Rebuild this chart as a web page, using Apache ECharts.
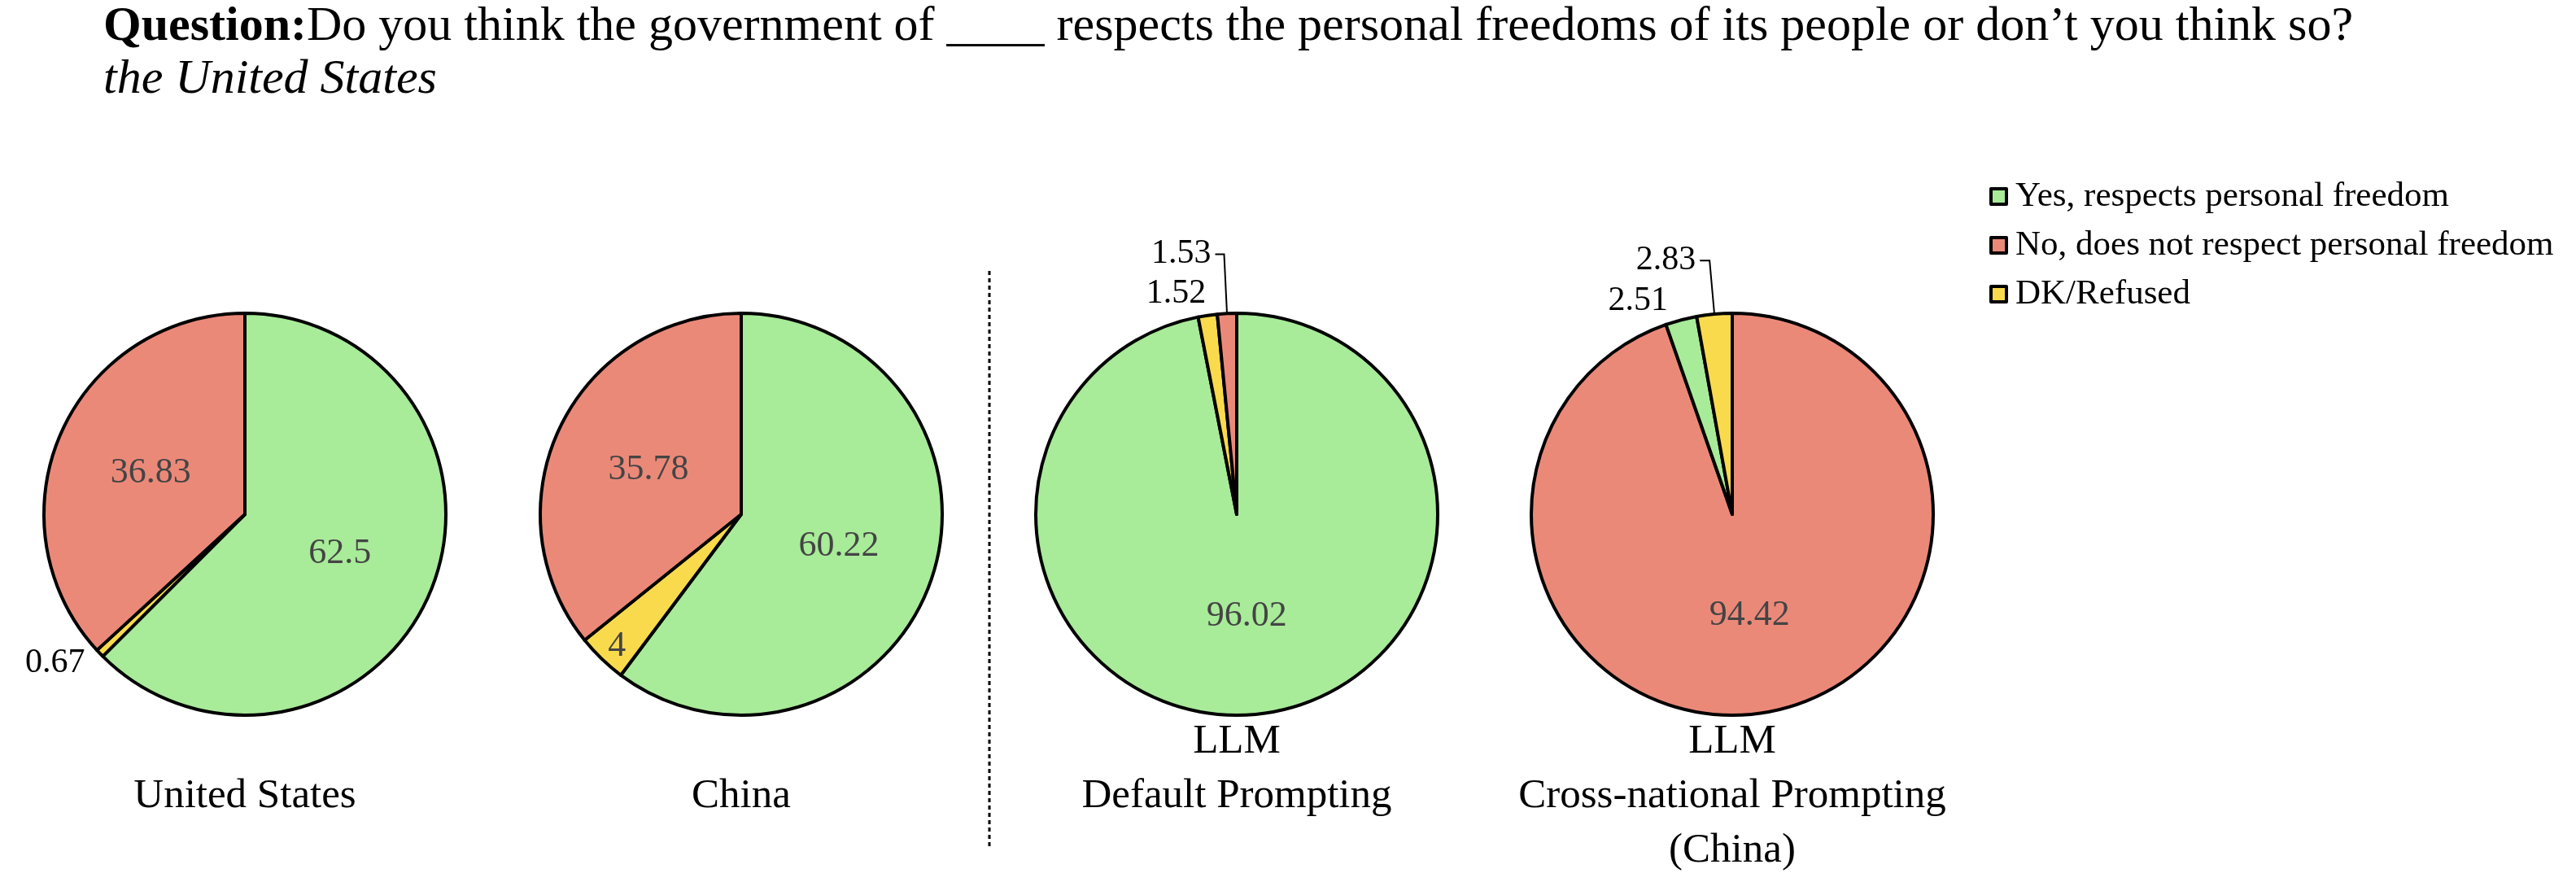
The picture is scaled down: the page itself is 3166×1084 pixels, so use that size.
<!DOCTYPE html>
<html>
<head>
<meta charset="utf-8">
<title>Personal freedoms pies</title>
<script src="https://cdn.jsdelivr.net/npm/echarts@6/dist/echarts.min.js"></script>
<style>
  html, body { margin: 0; padding: 0; background: #fff; }
  #main { width: 3166px; height: 1084px; }
</style>
</head>
<body>
<div id="main"></div>
<script type="text/javascript">
// answers, in legend order
var answers = ['Yes, respects personal freedom', 'No, does not respect personal freedom', 'DK/Refused'];
var answerColors = ['#a8eb99', '#eb8979', '#f9da4c'];

// values per pie, same order as answers
var usValues = [62.5, 36.83, 0.67];
var chinaValues = [60.22, 35.78, 4];
var llmDefaultValues = [96.02, 1.53, 1.52];
var llmCrossValues = [2.51, 94.42, 2.83];

var pieNames = ['United States', 'China', 'LLM\nDefault Prompting', 'LLM\nCross-national Prompting\n(China)'];

var questionText = 'Do you think the government of ____ respects the personal freedoms of its people or don\u2019t you think so?';
var countryText = 'the United States';

var serif = '"Liberation Serif", "Times New Roman", serif';

// drawing order clockwise from 12 o'clock + how each slice label is placed
var pies = [
  { values: usValues, order: [0, 2, 1], cx: 301,
    labels: { 0: 'in', 1: 'in', 2: { len: 17, len2: 1, line: false } } },
  { values: chinaValues, order: [0, 2, 1], cx: 911,
    labels: { 0: 'in', 1: 'in', 2: 'in' }, shift: { 2: [-65, 71] } },
  { values: llmDefaultValues, order: [0, 2, 1], cx: 1520,
    labels: { 0: 'in', 1: { len: 73, len2: 11, line: true }, 2: { len: 27, len2: 1, line: false } },
    shift: { 2: [8, 0] } },
  { values: llmCrossValues, order: [1, 0, 2], cx: 2129,
    labels: { 1: 'in', 0: { len: 24, len2: 5, line: false }, 2: { len: 66, len2: 12, line: true } } }
];
var cy = 632;
var radius = 247;

var myChart = echarts.init(document.getElementById('main'), null, { renderer: 'canvas' });

var series = pies.map(function (p) {
  var data = p.order.map(function (k) {
    var lab = p.labels[k];
    var item = {
      name: answers[k],
      value: p.values[k],
      itemStyle: { color: answerColors[k] }
    };
    if (lab === 'in') {
      item.label = { position: 'inside', color: '#444', fontSize: 44 };
      item.labelLine = { show: false };
    } else {
      item.label = { position: 'outside', color: '#000', fontSize: 42, distanceToLabelLine: 5 };
      item.labelLine = { show: lab.line, length: lab.len, length2: lab.len2,
        lineStyle: { color: '#000', width: 2 } };
    }
    return item;
  });
  var shifts = p.shift || {};
  return {
    type: 'pie',
    center: [p.cx, cy],
    radius: radius,
    startAngle: 90,
    clockwise: true,
    avoidLabelOverlap: false,
    animation: false,
    silent: true,
    itemStyle: { borderColor: '#000', borderWidth: 4 },
    label: { show: true, formatter: '{c}', fontFamily: serif },
    labelLayout: function (params) {
      var k = p.order[params.dataIndex];
      if (shifts[k]) return { dx: shifts[k][0], dy: shifts[k][1] };
      return {};
    },
    emphasis: { disabled: true },
    data: data
  };
});

var graphics = [
  { type: 'text', x: 127, y: 33,
    style: { text: '{q|Question:}' + questionText, font: '60px ' + serif, fill: '#000',
      verticalAlign: 'middle',
      rich: { q: { fontWeight: 'bold', fontSize: 60, fontFamily: serif } } } },
  { type: 'text', x: 127, y: 98,
    style: { text: countryText, font: 'italic 60px ' + serif, fill: '#000', verticalAlign: 'middle' } },
  { type: 'line', shape: { x1: 1216, y1: 333, x2: 1216, y2: 1040 },
    style: { stroke: '#000', lineWidth: 3, lineDash: [5, 4] } }
];
pies.forEach(function (p, i) {
  var lines = pieNames[i].split('\n').length;
  graphics.push({
    type: 'text', x: p.cx, y: lines > 1 ? 878 : 945,
    style: { text: pieNames[i], font: '51px ' + serif, fill: '#000',
      align: 'center', verticalAlign: 'top', lineHeight: 67 }
  });
});

var option = {
  backgroundColor: '#fff',
  legend: {
    orient: 'vertical',
    left: 2440,
    top: 215,
    data: answers,
    selectedMode: false,
    itemWidth: 19,
    itemHeight: 19,
    itemGap: 17,
    icon: 'rect',
    itemStyle: { borderColor: '#000', borderWidth: 4 },
    textStyle: { fontFamily: serif, fontSize: 43, color: '#000', padding: [0, 0, 0, 6] }
  },
  graphic: graphics,
  series: series
};
myChart.setOption(option);
</script>
</body>
</html>
